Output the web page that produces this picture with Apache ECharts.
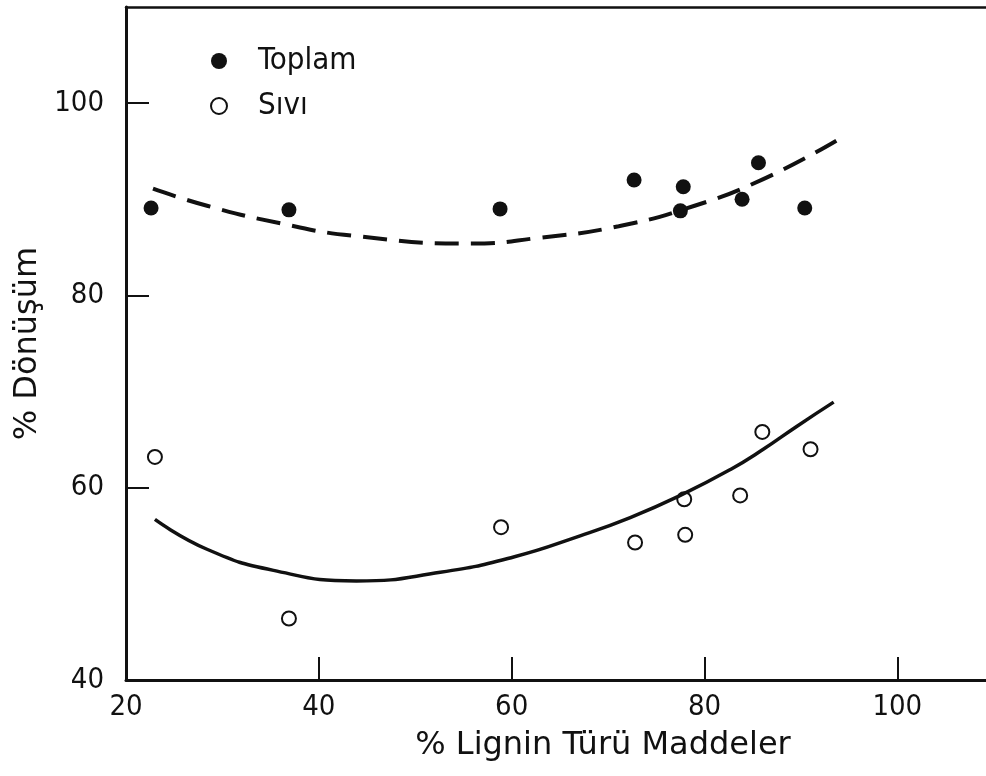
<!DOCTYPE html>
<html>
<head>
<meta charset="utf-8">
<script src="https://cdn.jsdelivr.net/npm/echarts@6/dist/echarts.min.js"></script>
<style>html,body{margin:0;padding:0;background:#fff}#c{width:986px;height:776px}</style>
</head>
<body>
<div id="c"></div>
<script>
// Data
const toplamX = [22.6, 36.9, 58.8, 72.7, 77.8, 77.5, 83.9, 85.6, 90.4];
const toplamY = [89.1, 88.9, 89.0, 92.0, 91.3, 88.8, 90.0, 93.8, 89.1];
const siviX = [23.0, 36.9, 58.9, 72.8, 77.9, 78.0, 83.7, 86.0, 91.0];
const siviY = [63.2, 46.4, 55.9, 54.3, 58.8, 55.1, 59.2, 65.8, 64.0];
// fitted curves
const toplamCurveX = [22.8, 28.5, 36.0, 43.6, 55.7, 62.9, 71.1, 78.9, 86.1, 93.7];
const toplamCurveY = [91.1, 89.3, 87.5, 86.2, 85.4, 86.0, 87.2, 89.3, 92.1, 96.1];
const siviCurveX = [23.0, 28.4, 35.3, 43.9, 52.6, 60.2, 67.1, 72.3, 77.5, 82.7, 86.1, 89.6, 93.4];
const siviCurveY = [56.7, 53.6, 51.4, 50.3, 51.2, 52.8, 55.0, 56.9, 59.2, 61.9, 64.0, 66.4, 68.9];
const xTicks = [20, 40, 60, 80, 100];
const yTicks = [40, 60, 80, 100];
const seriesNames = ['Toplam', 'Sıvı'];
const xName = '% Lignin Türü Maddeler';
const yName = '% Dönüşüm';

const zip = (a, b) => a.map((v, i) => [v, b[i]]);
const FONT_C = "'DejaVu Sans Condensed', 'DejaVu Sans', sans-serif";
const FONT = "'DejaVu Sans', sans-serif";
const INK = '#111';

const chart = echarts.init(document.getElementById('c'));
chart.setOption({
  animation: false,
  backgroundColor: '#fff',
  grid: { left: 126, top: 7, right: 0, bottom: 96 },
  legend: {
    orient: 'vertical', left: 205, top: 40, itemWidth: 16, itemHeight: 16, itemGap: 13,
    data: [{ name: seriesNames[0], icon: 'circle' }, { name: seriesNames[1], icon: 'circle' }],
    textStyle: { fontFamily: FONT_C, fontSize: 31, lineHeight: 32, color: INK, padding: [0, 0, 0, 26] }
  },
  xAxis: [{
    type: 'value', min: 20, max: 109.2,
    name: xName, nameLocation: 'middle', nameGap: 50,
    nameTextStyle: { fontFamily: FONT, fontSize: 32, color: INK, padding: [0, 0, 0, 94] },
    axisLine: { lineStyle: { color: INK, width: 3 } },
    axisTick: { inside: true, length: 23, customValues: xTicks, lineStyle: { color: INK, width: 2 } },
    axisLabel: { margin: 13, fontFamily: FONT_C, fontSize: 29, color: INK, customValues: xTicks },
    splitLine: { show: false }
  }, {
    type: 'value', min: 20, max: 109.2, position: 'top',
    axisLine: { lineStyle: { color: INK, width: 2.5 } },
    axisTick: { show: false }, axisLabel: { show: false }, splitLine: { show: false }
  }],
  yAxis: {
    type: 'value', min: 40, max: 110,
    name: yName, nameLocation: 'middle', nameGap: 82,
    nameTextStyle: { fontFamily: FONT, fontSize: 32, color: INK },
    axisLine: { lineStyle: { color: INK, width: 3 } },
    axisTick: { inside: true, length: 23, customValues: yTicks, lineStyle: { color: INK, width: 2 } },
    axisLabel: { margin: 22, fontFamily: FONT_C, fontSize: 29, color: INK, customValues: yTicks },
    splitLine: { show: false }
  },
  series: [
    { name: 'fitToplam', type: 'line', smooth: 0.5, showSymbol: false, silent: true,
      data: zip(toplamCurveX, toplamCurveY),
      lineStyle: { color: INK, width: 4, type: [24, 12] } },
    { name: 'fitSivi', type: 'line', smooth: 0.5, showSymbol: false, silent: true,
      data: zip(siviCurveX, siviCurveY),
      lineStyle: { color: INK, width: 3.5 } },
    { name: seriesNames[0], type: 'scatter', symbol: 'circle', symbolSize: 15,
      data: zip(toplamX, toplamY), itemStyle: { color: INK, opacity: 1 } },
    { name: seriesNames[1], type: 'scatter', symbol: 'circle', symbolSize: 14,
      data: zip(siviX, siviY), itemStyle: { color: '#fff', borderColor: INK, borderWidth: 2, opacity: 1 } }
  ]
});
</script>
</body>
</html>
